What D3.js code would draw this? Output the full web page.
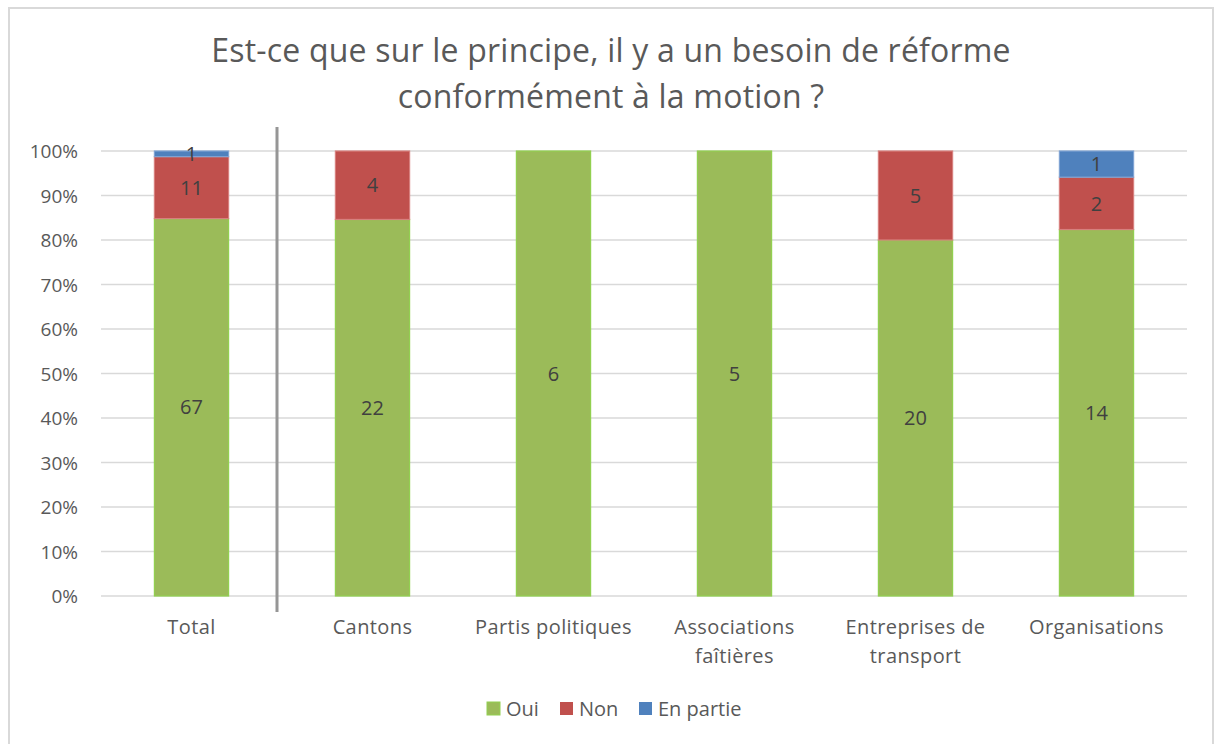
<!DOCTYPE html>
<html>
<head>
<meta charset="utf-8">
<script src="https://cdn.jsdelivr.net/npm/d3@7"></script>
<style>
  body { margin: 0; background: #fff; }
  svg text { font-family: "Open Sans", sans-serif; fill: #595959; }
</style>
</head>
<body>
<div class="visualization"></div>
<script>
// data
const categories = ['Total', 'Cantons', 'Partis politiques', 'Associations faîtières', 'Entreprises de transport', 'Organisations'];
const oui = [67, 22, 6, 5, 20, 14];
const non = [11, 4, 0, 0, 5, 2];
const enPartie = [1, 0, 0, 0, 0, 1];
const seriesNames = ['Oui', 'Non', 'En partie'];
const yTicks = [0, 0.1, 0.2, 0.3, 0.4, 0.5, 0.6, 0.7, 0.8, 0.9, 1];
const titleLines = ['Est-ce que sur le principe, il y a un besoin de réforme', 'conformément à la motion ?'];

const colors = ['#9BBB59', '#C0504D', '#4F81BD'];
const strokes = ['#92D050', '#D7807E', '#7FA3D3'];

const width = 1215, height = 744;
const margin = {top: 151, left: 101, right: 28, bottom: 148};

const svg = d3.select('.visualization').append('svg')
    .attr('width', width)
    .attr('height', height);

// chart frame
svg.append('path')
    .attr('d', `M9,${height} V8 H1213 V${height}`)
    .attr('fill', 'none')
    .attr('stroke', '#d9d9d9')
    .attr('stroke-width', 2);

const title = svg.append('text')
    .attr('text-anchor', 'middle')
    .style('font-size', '32px')
    .style('letter-spacing', '0.2px');
title.selectAll('tspan')
    .data(titleLines)
    .enter().append('tspan')
    .attr('x', 611)
    .attr('y', (d, i) => 62 + i * 46)
    .text(d => d);

const rows = categories.map((c, i) => ({
    cat: c,
    'Oui': oui[i], 'Non': non[i], 'En partie': enPartie[i]
}));
const stack = d3.stack()
    .keys(seriesNames)
    .offset(d3.stackOffsetExpand);
const stacked = stack(rows);

const x = d3.scaleBand()
    .domain(categories)
    .range([margin.left, width - margin.right])
    .paddingInner(0.59)
    .paddingOuter(0.295);
const y = d3.scaleLinear()
    .domain([0, 1])
    .range([height - margin.bottom, margin.top]);

// gridlines
svg.append('g')
    .selectAll('line')
    .data(yTicks)
    .enter().append('line')
    .attr('x1', margin.left)
    .attr('x2', width - margin.right)
    .attr('y1', d => y(d))
    .attr('y2', d => y(d))
    .attr('stroke', '#d9d9d9')
    .attr('stroke-width', 1.5);

// y axis labels
const yAxis = svg.append('g')
    .attr('transform', `translate(${margin.left - 23},0)`)
    .call(d3.axisLeft(y).tickValues(yTicks).tickFormat(d3.format('.0%')).tickSize(0).tickPadding(0));
yAxis.select('.domain').remove();
yAxis.selectAll('text')
    .style('font-size', '19px')
    .style('font-family', '"Open Sans", sans-serif')
    .attr('dy', '0.36em');

// bars
const layers = svg.append('g').selectAll('g')
    .data(stacked)
    .enter().append('g')
    .attr('fill', (d, i) => colors[i])
    .attr('stroke', (d, i) => strokes[i]);
layers.selectAll('rect')
    .data(d => d.filter(s => s[1] > s[0]))
    .enter().append('rect')
    .attr('x', d => x(d.data.cat))
    .attr('width', x.bandwidth())
    .attr('y', d => y(d[1]))
    .attr('height', d => y(d[0]) - y(d[1]))
    .attr('stroke-width', 1.2);

// value labels
stacked.forEach((layer, li) => {
    svg.append('g').selectAll('text')
        .data(layer.filter(s => s[1] > s[0]))
        .enter().append('text')
        .attr('x', d => x(d.data.cat) + x.bandwidth() / 2)
        .attr('y', d => (y(d[0]) + y(d[1])) / 2)
        .attr('dy', '0.36em')
        .attr('text-anchor', 'middle')
        .style('font-size', '20px')
        .style('fill', '#404040')
        .text(d => d.data[layer.key]);
});

// x axis labels
const xLabels = svg.append('g').selectAll('text')
    .data(categories)
    .enter().append('text')
    .attr('text-anchor', 'middle')
    .style('font-size', '20px')
    .style('letter-spacing', '0.4px')
    .attr('y', 634);
const wrap = {'Associations faîtières': ['Associations', 'faîtières'], 'Entreprises de transport': ['Entreprises de', 'transport']};
xLabels.selectAll('tspan')
    .data(d => (wrap[d] || [d]).map(t => ({t: t, c: d})))
    .enter().append('tspan')
    .attr('x', d => x(d.c) + x.bandwidth() / 2)
    .attr('dy', (d, i) => i ? 29 : 0)
    .text(d => d.t);

// separator between Total and the groups
const sepX = (x('Total') + x.bandwidth() + x('Cantons')) / 2 - 5;
svg.append('line')
    .attr('x1', sepX).attr('x2', sepX)
    .attr('y1', 127).attr('y2', 612)
    .attr('stroke', '#969696')
    .attr('stroke-width', 3);

// legend
const legendX = [487, 560, 639];
const legend = svg.append('g').selectAll('g')
    .data(seriesNames)
    .enter().append('g')
    .attr('transform', (d, i) => `translate(${legendX[i]},702)`);
legend.append('rect')
    .attr('width', 13).attr('height', 13)
    .attr('fill', (d, i) => colors[i])
    .attr('stroke', (d, i) => i === 0 ? strokes[0] : 'none');
legend.append('text')
    .attr('x', 19)
    .attr('y', 7)
    .attr('dy', '0.36em')
    .style('font-size', '20px')
    .text(d => d);
</script>
</body>
</html>
